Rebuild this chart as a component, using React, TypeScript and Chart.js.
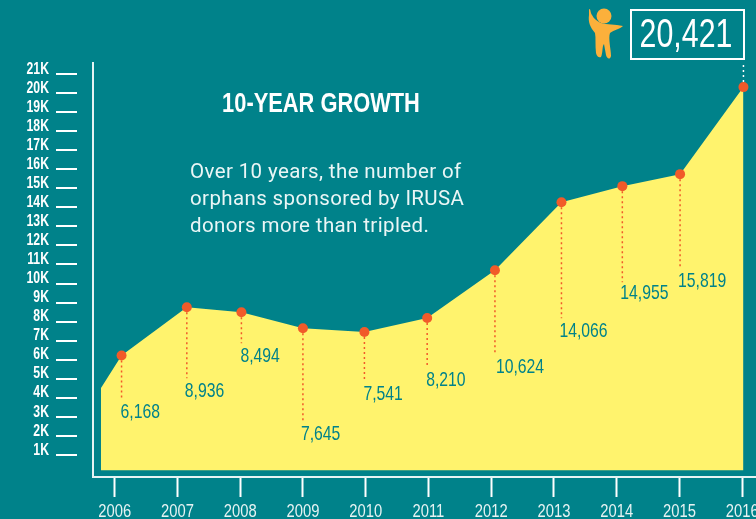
import React, { useEffect, useRef } from "react";
import { Chart, registerables } from "chart.js";

Chart.register(...registerables);

const years = [2006, 2007, 2008, 2009, 2010, 2011, 2012, 2013, 2014, 2015, 2016];
const orphanLabels = ["6,168", "8,936", "8,494", "7,645", "7,541", "8,210", "10,624", "14,066", "14,955", "15,819"];
const totalLabel = "20,421";
const yTicks = [1000, 2000, 3000, 4000, 5000, 6000, 7000, 8000, 9000, 10000, 11000, 12000, 13000, 14000, 15000, 16000, 17000, 18000, 19000, 20000, 21000];
const pointYears = [2005.78, 2006.11, 2007.15, 2008.02, 2009.0, 2009.98, 2010.98, 2012.06, 2013.12, 2014.09, 2015.01, 2016.02];
const pointValues = [4500, 6220, 8750, 8490, 7650, 7450, 8190, 10700, 14270, 15110, 15740, 20310];
const leaderLengths = [44, 71, 31, 92, 48, 50, 83, 116, 96, 94];
const labelOffsets = [[-1, 57], [-2, 84], [-1, 44], [-2, 106], [-1, 62], [-1, 62], [1, 97], [-2, 129], [-2, 107], [-2, 107]];

const TEAL = "#00828a";
const YELLOW = "#fff36d";
const RED = "#f15a29";
const AXIS = "#e6f3f3";
const BASE = '"Liberation Sans", sans-serif';

function squeezeLabels(scale: any, ratio: number, lift: number) {
  if (scale.__squeezed) return;
  scale.__squeezed = true;
  const draw = scale.drawLabels;
  scale.drawLabels = function (area: any) {
    const ctx = this.ctx;
    const translate = ctx.translate;
    ctx.translate = function (x: number, y: number) {
      translate.call(ctx, x, y - lift);
      ctx.scale(ratio, 1);
    };
    draw.call(this, area);
    delete ctx.translate;
  };
}

function narrowText(ctx: any, text: string, x: number, y: number, ratio: number) {
  ctx.save();
  ctx.translate(x, y);
  ctx.scale(ratio, 1);
  ctx.fillText(text, 0, 0);
  ctx.restore();
}

const overlay = {
  id: "overlay",
  beforeDraw(chart: any) {
    squeezeLabels(chart.scales.x, 0.8, 0);
    squeezeLabels(chart.scales.y, 0.72, 5);
  },
  afterDatasetsDraw(chart: any) {
    const { ctx, scales } = chart;
    const y = scales.y;
    const pts = chart.getDatasetMeta(0).data;
    ctx.save();
    ctx.strokeStyle = "#ffffff";
    ctx.lineWidth = 2;
    yTicks.forEach((v) => {
      const py = Math.round(y.getPixelForValue(v));
      ctx.beginPath();
      ctx.moveTo(56, py);
      ctx.lineTo(77, py);
      ctx.stroke();
    });
    ctx.textBaseline = "middle";
    ctx.textAlign = "left";
    orphanLabels.forEach((label, i) => {
      const p = pts[i + 1];
      ctx.strokeStyle = RED;
      ctx.lineWidth = 1.5;
      ctx.setLineDash([2, 3]);
      ctx.beginPath();
      ctx.moveTo(p.x, p.y);
      ctx.lineTo(p.x, p.y + leaderLengths[i]);
      ctx.stroke();
      ctx.setLineDash([]);
      ctx.fillStyle = TEAL;
      ctx.font = `21px ${BASE}`;
      narrowText(ctx, label, p.x + labelOffsets[i][0], p.y + labelOffsets[i][1], 0.75);
    });
    const last = pts[pts.length - 1];
    ctx.strokeStyle = "#ffffff";
    ctx.lineWidth = 1.5;
    ctx.setLineDash([2, 3]);
    ctx.beginPath();
    ctx.moveTo(last.x, last.y);
    ctx.lineTo(last.x, 62);
    ctx.stroke();
    ctx.setLineDash([]);
    ctx.fillStyle = RED;
    pts.slice(1).forEach((p: any) => {
      ctx.beginPath();
      ctx.arc(p.x, p.y, 5, 0, Math.PI * 2);
      ctx.fill();
    });
    ctx.strokeStyle = "#ffffff";
    ctx.lineWidth = 2;
    ctx.strokeRect(631, 10, 113, 49);
    ctx.fillStyle = "#ffffff";
    ctx.textAlign = "center";
    ctx.font = `41px ${BASE}`;
    narrowText(ctx, totalLabel, 686, 36, 0.74);
    ctx.font = `bold 28px ${BASE}`;
    narrowText(ctx, "10-YEAR GROWTH", 321, 104, 0.78);
    ctx.textAlign = "left";
    ctx.font = '400 20.5px "Roboto", "Noto Sans", sans-serif';
    ctx.letterSpacing = "0.38px";
    ctx.fillStyle = "#eaf6f6";
    ["Over 10 years, the number of", "orphans sponsored by IRUSA", "donors more than tripled."].forEach((t, i) => {
      ctx.fillText(t, 190, 173 + i * 27);
    });
    ctx.letterSpacing = "0px";
    ctx.fillStyle = "#fbb03b";
    ctx.beginPath();
    ctx.arc(604, 16, 7.5, 0, Math.PI * 2);
    ctx.fill();
    const body = new Path2D("M589 9 C591 9 590 12 592 15 C594 19 597 21 601 23 C607 25 615 24 623 26 C620 29 614 30 610 33 C608 38 611 50 611 56 C610 60 607 59 606 55 L604 44 C602 46 603 53 601 57 C599 58 597 57 596 53 C595 45 596 38 595 33 C590 27 588 22 589 15 Z");
    ctx.fill(body);
    ctx.restore();
  },
};

function clearPadding(s: any) {
  s.paddingTop = s.paddingBottom = s.paddingLeft = s.paddingRight = 0;
}

export default function App() {
  const ref = useRef<HTMLCanvasElement>(null);
  useEffect(() => {
    const chart = new Chart(ref.current!, {
      type: "line",
      data: {
        datasets: [
          {
            data: pointYears.map((x, i) => ({ x, y: pointValues[i] })),
            borderWidth: 0,
            borderColor: YELLOW,
            backgroundColor: YELLOW,
            fill: { value: 200 },
            tension: 0,
            pointRadius: 0,
          },
        ],
      },
      options: {
        animation: false,
        responsive: false,
        events: [],
        layout: { padding: { top: 63, right: 0, left: 0, bottom: 0 } },
        plugins: { legend: { display: false }, tooltip: { enabled: false } },
        scales: {
          x: {
            type: "linear",
            min: 2005.655,
            max: 2016.22,
            afterFit(s: any) { s.height = 42; clearPadding(s); },
            afterBuildTicks(s: any) { s.ticks = years.map((value) => ({ value })); },
            border: { color: AXIS, width: 2 },
            grid: { drawOnChartArea: false, drawTicks: true, tickLength: 20, tickColor: "#ffffff", tickWidth: 2 },
            ticks: {
              color: "#e6f3f3",
              font: { family: BASE, size: 18.5 },
              padding: 4,
              maxRotation: 0,
              autoSkip: false,
              callback: (v: any) => String(v),
            },
          },
          y: {
            type: "linear",
            min: -157,
            max: 21575,
            afterFit(s: any) { s.width = 93; clearPadding(s); },
            afterBuildTicks(s: any) { s.ticks = yTicks.map((value) => ({ value })); },
            border: { color: AXIS, width: 2 },
            grid: { drawOnChartArea: false, drawTicks: false },
            ticks: {
              color: "#ffffff",
              font: { family: BASE, size: 17, weight: "bold" },
              padding: 44,
              autoSkip: false,
              callback: (v: any) => `${Number(v) / 1000}K`,
            },
          },
        },
      },
      plugins: [overlay],
    } as any);
    return () => chart.destroy();
  }, []);
  return (
    <div style={{ position: "fixed", inset: 0, background: TEAL, overflow: "hidden" }}>
      <canvas ref={ref} width={756} height={519} style={{ display: "block" }} />
    </div>
  );
}
